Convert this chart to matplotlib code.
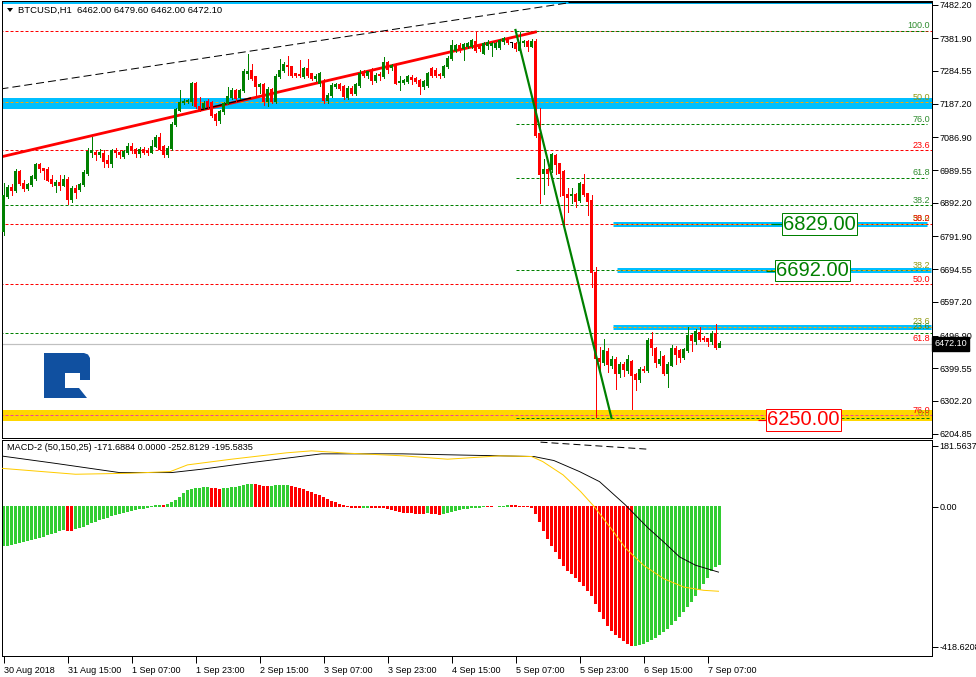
import numpy as np
import matplotlib
matplotlib.use('Agg')
import matplotlib.pyplot as plt
from matplotlib import font_manager
from matplotlib.patches import Polygon
import matplotlib.transforms as mtrans

# ---------------- data ----------------
opens = [6806, 6910, 6937, 6929, 6984, 6949, 6934, 6946, 6965, 7005,
         6995, 6990, 6962, 6945, 6952, 6945, 6963, 6903, 6935, 6931,
         6946, 6978, 7041, 7041, 7035, 7040, 7017, 7008, 7047, 7043,
         7030, 7043, 7061, 7050, 7038, 7052, 7048, 7043, 7061, 7087,
         7061, 7037, 7053, 7124, 7168, 7190, 7193, 7193, 7247, 7180,
         7176, 7193, 7190, 7155, 7138, 7163, 7188, 7207, 7227, 7206,
         7227, 7277, 7285, 7267, 7237, 7244, 7193, 7229, 7195, 7269,
         7287, 7302, 7297, 7276, 7274, 7269, 7292, 7277, 7262, 7247,
         7252, 7198, 7213, 7238, 7244, 7237, 7206, 7232, 7217, 7242,
         7282, 7270, 7282, 7257, 7275, 7269, 7309, 7294, 7297, 7250,
         7250, 7252, 7265, 7262, 7257, 7237, 7240, 7292, 7287, 7275,
         7272, 7298, 7323, 7346, 7361, 7351, 7357, 7358, 7373, 7358,
         7338, 7360, 7360, 7355, 7355, 7371, 7378, 7368, 7366, 7346,
         7369, 7373, 7358, 7373, 7099, 6978, 6990, 6990, 7032, 7008,
         6985, 6916, 6913, 6916, 6900, 6946, 6919, 6898, 6686, 6429,
         6417, 6451, 6409, 6427, 6385, 6412, 6392, 6419, 6380, 6366,
         6397, 6392, 6484, 6457, 6415, 6434, 6383, 6409, 6459, 6452,
         6432, 6452, 6496, 6478, 6506, 6488, 6488, 6478, 6504, 6462.0]
highs = [6952, 6946, 6949, 6993, 6990, 6960, 6950, 6975, 7012, 7012,
         6997, 7000, 6975, 6960, 6975, 6975, 6970, 6941, 6944, 6950,
         6990, 7054, 7089, 7047, 7052, 7050, 7035, 7052, 7056, 7050,
         7050, 7070, 7070, 7055, 7058, 7058, 7055, 7079, 7094, 7101,
         7065, 7060, 7133, 7175, 7227, 7200, 7202, 7252, 7252, 7206,
         7195, 7200, 7196, 7160, 7168, 7192, 7237, 7235, 7232, 7232,
         7289, 7336, 7306, 7270, 7249, 7250, 7236, 7234, 7275, 7321,
         7310, 7328, 7300, 7280, 7316, 7297, 7321, 7280, 7275, 7282,
         7262, 7220, 7250, 7250, 7250, 7242, 7240, 7240, 7250, 7287,
         7287, 7285, 7292, 7278, 7282, 7326, 7315, 7305, 7309, 7269,
         7262, 7272, 7272, 7266, 7262, 7258, 7282, 7297, 7292, 7280,
         7303, 7328, 7378, 7365, 7369, 7369, 7372, 7380, 7400, 7362,
         7371, 7378, 7372, 7370, 7380, 7387, 7383, 7368, 7370, 7400,
         7378, 7378, 7380, 7380, 7173, 7022, 6995, 7040, 7038, 7010,
         6990, 6937, 6937, 6920, 6953, 6978, 6920, 6916, 6702, 6463,
         6486, 6460, 6435, 6432, 6418, 6418, 6439, 6425, 6385, 6402,
         6405, 6491, 6508, 6462, 6452, 6440, 6418, 6468, 6465, 6458,
         6460, 6521, 6502, 6516, 6521, 6495, 6490, 6510, 6531, 6479.6]
lows = [6797, 6907, 6914, 6925, 6946, 6926, 6930, 6942, 6961, 6985,
        6963, 6956, 6941, 6923, 6931, 6941, 6888, 6896, 6907, 6926,
        6942, 6975, 7030, 7020, 7030, 7000, 6998, 7000, 7030, 7025,
        7025, 7038, 7040, 7029, 7028, 7036, 7035, 7040, 7058, 7048,
        7030, 7030, 7050, 7120, 7166, 7185, 7188, 7183, 7174, 7166,
        7170, 7170, 7148, 7124, 7130, 7158, 7185, 7200, 7195, 7200,
        7222, 7262, 7258, 7213, 7218, 7183, 7180, 7190, 7190, 7265,
        7283, 7272, 7268, 7268, 7266, 7265, 7267, 7258, 7255, 7240,
        7189, 7189, 7208, 7233, 7228, 7200, 7200, 7212, 7212, 7238,
        7268, 7265, 7247, 7252, 7257, 7265, 7279, 7288, 7245, 7227,
        7245, 7248, 7247, 7248, 7215, 7232, 7236, 7267, 7268, 7265,
        7268, 7293, 7318, 7340, 7340, 7318, 7352, 7354, 7341, 7345,
        7334, 7350, 7328, 7350, 7350, 7366, 7365, 7355, 7345, 7341,
        7360, 7344, 7355, 7087, 6893, 6919, 6946, 6985, 6978, 6911,
        6827, 6864, 6893, 6880, 6895, 6912, 6857, 6642, 6254, 6382,
        6410, 6389, 6400, 6338, 6375, 6378, 6385, 6277, 6336, 6360,
        6388, 6388, 6439, 6402, 6410, 6380, 6343, 6405, 6412, 6417,
        6428, 6448, 6452, 6472, 6481, 6480, 6467, 6473, 6457, 6462.0]
closes = [6913, 6937, 6929, 6985, 6949, 6935, 6946, 6969, 7005, 6994,
          6988, 6960, 6949, 6952, 6945, 6963, 6901, 6934, 6923, 6946,
          6982, 7044, 7047, 7035, 7041, 7015, 7008, 7047, 7043, 7035,
          7045, 7061, 7047, 7040, 7052, 7043, 7043, 7061, 7087, 7052,
          7035, 7054, 7124, 7170, 7190, 7195, 7198, 7247, 7178, 7170,
          7188, 7178, 7153, 7138, 7163, 7188, 7209, 7227, 7203, 7227,
          7282, 7282, 7262, 7237, 7244, 7193, 7229, 7195, 7269, 7287,
          7304, 7297, 7272, 7272, 7270, 7292, 7272, 7262, 7269, 7277,
          7198, 7213, 7242, 7244, 7232, 7208, 7232, 7217, 7245, 7277,
          7272, 7282, 7257, 7272, 7272, 7311, 7290, 7300, 7247, 7254,
          7255, 7267, 7260, 7252, 7237, 7254, 7277, 7272, 7272, 7272,
          7298, 7323, 7361, 7361, 7346, 7364, 7367, 7375, 7346, 7351,
          7366, 7370, 7366, 7365, 7375, 7381, 7370, 7368, 7351, 7370,
          7373, 7358, 7373, 7094, 6975, 6990, 6978, 7035, 7005, 6980,
          6913, 6908, 6916, 6896, 6949, 6916, 6896, 6686, 6429, 6419,
          6452, 6412, 6427, 6383, 6412, 6395, 6427, 6378, 6366, 6397,
          6392, 6483, 6462, 6417, 6425, 6385, 6412, 6459, 6442, 6432,
          6454, 6496, 6481, 6508, 6486, 6486, 6478, 6504, 6462, 6472.1]

macd_hist = [-117, -115, -113, -110, -108, -105, -102, -99, -95, -92,
             -88, -84, -80, -76, -72, -68, -70, -71, -66, -62,
             -58, -52, -47, -43, -39, -35, -31, -27, -24, -20,
             -17, -14, -11, -8, -6, -4, -3, 2, 3, 4,
             3, 6, 12, 20, 28, 38, 48, 52, 54, 55,
             56, 57, 55, 53, 52, 53, 55, 57, 58, 60,
             63, 66, 67, 65, 63, 61, 60, 61, 62, 62.5,
             63, 63.5, 60, 57, 54, 50, 46, 42, 37, 32,
             27, 22, 17, 12, 8, 4, 2, -1, -2, -3,
             -2, -1, -2, -2, -3, -3, -6, -9, -12, -14,
             -16, -17, -18, -19, -20, -20, -18, -19, -21, -22,
             -21, -18, -14, -11, -8, -6, -4, -3, -2, -1,
             1, 1, 1, 0, 1, 2, 3, 3, 3, 2,
             1, 1, -3, -20, -45, -70, -95, -115, -135, -155,
             -175, -190, -200, -212, -224, -236, -250, -266, -290, -312,
             -334, -354, -370, -382, -392, -401, -408, -416, -415, -413,
             -409, -404, -398, -391, -383, -374, -364, -353, -341, -328,
             -314, -299, -283, -266, -248, -230, -211, -191, -180, -171.69]

# MACD lines read at selected bars (bar index, value)
macd_black_idx = [-0.75, 12.7, 29, 42, 49.5, 62, 79.5, 99.7, 132.6, 137.6,
                  144, 149, 155.5, 161, 165, 169, 173, 178.75]
macd_black_val = [152, 130, 102, 102, 112, 132, 158, 158, 150, 138,
                  105, 75, 5, -62, -105, -150, -175, -195.58]
macd_gold_idx = [-0.75, 18, 31.6, 41.7, 46, 57, 70.7, 77, 86, 100,
                 111, 124, 132, 134.8, 139.9, 144.3, 147.7, 152.2, 155.5, 160,
                 165, 170, 175, 178.75]
macd_gold_val = [115, 97, 100, 105, 125, 142, 161, 167, 160, 152,
                 142, 152, 150, 135, 95, 45, 0, -70, -124, -175,
                 -215, -240, -250, -252.81]

price_ticks = [7482.20, 7381.90, 7284.55, 7187.20, 7086.90, 6989.55, 6892.20,
               6791.90, 6694.55, 6597.20, 6496.90, 6399.55, 6302.20, 6204.85]
macd_ticks = [181.5637, 0.0, -418.6208]
macd_tick_labels = ['181.5637', '0.00', '-418.6208']
time_tick_idx = [0, 16, 32, 48, 64, 80, 96, 112, 128, 144, 160, 176]
time_labels = ['30 Aug 2018', '31 Aug 15:00', '1 Sep 07:00', '1 Sep 23:00',
               '2 Sep 15:00', '3 Sep 07:00', '3 Sep 23:00', '4 Sep 15:00',
               '5 Sep 07:00', '5 Sep 23:00', '6 Sep 15:00', '7 Sep 07:00']

title_text = 'BTCUSD,H1  6462.00 6479.60 6462.00 6472.10'
macd_text = 'MACD-2 (50,150,25) -171.6884 0.0000 -252.8129 -195.5835'
last_price = 6472.10
target_levels = [6829.00, 6692.00, 6250.00]
target_labels = ['6829.00', '6692.00', '6250.00']

# ---------------- figure ----------------
W, H = 976, 677
fig = plt.figure(figsize=(W / 100, H / 100), dpi=100)
fig.patch.set_facecolor('white')

def fx(x):
    return x / W

def fy(y):
    return 1 - y / H

names = {f.name for f in font_manager.fontManager.ttflist}
small_font = 'Liberation Sans' if 'Liberation Sans' in names else 'DejaVu Sans'
if 'Liberation Sans Narrow' in names:
    big_font, big_size = 'Liberation Sans Narrow', 17.5
else:
    big_font, big_size = small_font, 14.5
plt.rcParams['font.family'] = [small_font, 'DejaVu Sans']

SMALL = 6.5
PX = 0.72  # 1 px in points

ax = fig.add_axes([fx(2), fy(437.5), 930 / W, 437 / H])
mx = fig.add_axes([fx(2), fy(656), 930 / W, 216 / H])
XL = (-0.375, 232.125)   # 4 px per bar, bar centres on pixel centres
ax.set_xlim(*XL)
ax.set_ylim(6193.5, 7494.4)
mx.set_xlim(*XL)
mx.set_ylim(-446.4, 199.4)

for a in (ax, mx):
    for s in a.spines.values():
        s.set_linewidth(PX)
        s.set_color('black')

GREEN = '#008000'
RED = '#FF0000'
CYAN = '#00BFFF'
ORANGE = '#FFA500'
GOLD = '#FFD700'
LAB_GREEN = '#2e8b2e'
LAB_OLIVE = '#8f9a10'

n = len(closes)
idx = np.arange(n)
o = np.array(opens, float)
c = np.array(closes, float)
h = np.array(highs, float)
l = np.array(lows, float)
cols = [GREEN if cc > oo else (RED if cc < oo else 'black') for oo, cc in zip(o, c)]

# ---------- bands (horizontal zones) ----------
FULL = (-1, 240)
def band(price, thick_px, x0, x1, color, z=1):
    ax.hlines(price, x0, x1, colors=color, linewidth=thick_px * PX, zorder=z)

band(7488.5, 4, *FULL, CYAN)
band(7188.0, 11, *FULL, CYAN)
band(6259.0, 11, *FULL, GOLD)
band(6829.0, 5, 152.25, 230.75, CYAN)
band(6692.0, 5, 153.25, 231.75, CYAN)
band(6523.0, 5, 152.25, 231.75, CYAN)
ax.hlines(7490.5, 141, 240, colors='black', linewidth=1.2 * PX, zorder=2)

def dashed(price, x0, x1, color):
    ax.hlines(price, x0, x1, colors=color, linewidth=PX, linestyles=(0, (3, 2)), zorder=2)

# red fib (full width)
for p in [7404, 7049, 6829, 6650]:
    dashed(p, *FULL, RED)
dashed(6260.4, *FULL, '#F040A0')
# green fib
for p in [7404, 7127, 6966]:
    dashed(p, 128, 230.75, GREEN)
dashed(6886, *FULL, GREEN)
dashed(6505, *FULL, GREEN)
dashed(6692, 128, 231.75, GREEN)
dashed(6251.5, 128, 231.75, GREEN)
# orange dashes inside cyan bands
dashed(7192, *FULL, ORANGE)
dashed(6829, 152.25, 230.75, ORANGE)
dashed(6692, 153.25, 231.75, ORANGE)
dashed(6523, 152.25, 231.75, ORANGE)

# current price line
ax.axhline(last_price, color='#C0C0C0', linewidth=1.2 * PX, zorder=2)

# fib labels
fib_labels = [('100.0', LAB_GREEN, 7418.5), ('50.0', LAB_OLIVE, 7207), ('76.0', LAB_GREEN, 7141.6),
              ('23.6', RED, 7064), ('61.8', LAB_GREEN, 6981), ('38.2', LAB_GREEN, 6900.5),
              ('50.0', LAB_OLIVE, 6844), ('38.2', RED, 6844), ('38.2', LAB_OLIVE, 6707),
              ('50.0', RED, 6665), ('23.6', LAB_OLIVE, 6540), ('23.6', LAB_GREEN, 6525),
              ('61.8', RED, 6487), ('76.0', RED, 6275), ('0.0', LAB_OLIVE, 6266)]
for t, col, p in fib_labels:
    ax.text(231.6, p, t, color=col, fontsize=SMALL, ha='right', va='center', zorder=5)

# ---------- trend lines ----------
ax.plot([-0.75, 141], [7231, 7487], color='black', linewidth=PX,
        linestyle=(0, (8, 4)), zorder=2, solid_capstyle='butt')
ax.plot([-0.75, 133], [7028.5, 7400.6], color=RED, linewidth=2.8 * PX, zorder=2.5)
ax.plot([49.25, 61.75], [7169, 7204], color='black', linewidth=1.3 * PX, zorder=2.6)

# ---------- candles ----------
ax.vlines(idx, l, h, colors=cols, linewidth=1.0 * PX, zorder=3, antialiased=False)
bottoms = np.minimum(o, c)
heights = np.maximum(np.abs(c - o), 2.5)
ax.bar(idx, heights, bottom=bottoms, width=0.75, color=cols, linewidth=0, zorder=3.1,
       antialiased=False, snap=False)

ax.plot([128, 152], [7406.6, 6251.5], color=GREEN, linewidth=2.2 * PX, zorder=4)

# ---------- target labels ----------
tgt_pos = [(203.9, 6829.0, GREEN, (191.75, 194.6)),
           (202.25, 6690.6, GREEN, (190.5, 193.5)),
           (200.0, 6245.6, RED, (188.5, 191.5))]
for (xi, yp, col, seg), lab in zip(tgt_pos, target_labels):
    ax.hlines(yp, seg[0], seg[1], colors=col, linewidth=1.2 * PX, zorder=4)
    ax.text(xi, yp, lab, color=col, fontsize=big_size, family=[big_font, 'DejaVu Sans'],
            ha='center', va='center', zorder=6,
            bbox=dict(boxstyle='square,pad=0.06', fc='white', ec=col, lw=PX))

# ---------- axes ticks ----------
ax.set_xticks([])
ax.yaxis.tick_right()
ax.set_yticks(price_ticks)
ax.set_yticklabels(['%.2f' % v for v in price_ticks])
ax.tick_params(axis='y', length=4, width=PX, pad=1.5, labelsize=SMALL, direction='out')

ax.text(1.0 + 2.5 / 930, last_price, '%.2f' % last_price,
        transform=mtrans.blended_transform_factory(ax.transAxes, ax.transData),
        color='white', fontsize=SMALL, ha='left', va='center', zorder=10, clip_on=False,
        bbox=dict(boxstyle='square,pad=0.25', fc='black', ec='black'))

# ---------- MACD ----------
hist = np.array(macd_hist, float)
hcols = ['#32CD32' if (i == 0 or hist[i] > hist[i - 1]) else RED for i in range(n)]
mx.bar(idx, hist, width=0.75, color=hcols, linewidth=0, zorder=2,
       antialiased=False, snap=False)
mx.plot(macd_black_idx, macd_black_val, color='black', linewidth=0.9 * PX, zorder=3)
mx.plot(macd_gold_idx, macd_gold_val, color='#FFCC00', linewidth=1.0 * PX, zorder=3)
mx.plot([134.25, 161], [193, 172], color='black', linewidth=PX, linestyle=(0, (7, 4)), zorder=3)

mx.yaxis.tick_right()
mx.set_yticks(macd_ticks)
mx.set_yticklabels(macd_tick_labels)
mx.tick_params(axis='y', length=4, width=PX, pad=1.5, labelsize=SMALL, direction='out')
mx.set_xticks(time_tick_idx)
mx.set_xticklabels(time_labels)
mx.tick_params(axis='x', length=5, width=PX, pad=2, labelsize=SMALL, direction='out')
for lbl in mx.get_xticklabels():
    lbl.set_ha('left')

# ---------- texts ----------
fig.text(fx(18), fy(10.5), title_text, fontsize=6.8, ha='left', va='center', color='black')
fig.patches.append(Polygon([(fx(7), fy(8)), (fx(13), fy(8)), (fx(10), fy(12))],
                           closed=True, transform=fig.transFigure, fc='black', ec='none'))
fig.text(fx(7), fy(447), macd_text, fontsize=6.6, ha='left', va='center', color='black')

# ---------- logo ----------
LOGO = '#1050a0'
def pix_poly(pts, col):
    fig.patches.append(Polygon([(fx(x), fy(y)) for x, y in pts], closed=True,
                               transform=fig.transFigure, fc=col, ec='none', zorder=5))
pix_poly([(44, 353), (65, 353), (65, 398), (44, 398)], LOGO)
pix_poly([(65, 353), (84, 353), (88, 354.5), (90, 358), (90, 380), (80, 380), (80, 373), (65, 373)], LOGO)
pix_poly([(65, 388), (79, 388), (87, 398), (65, 398)], LOGO)

fig.savefig('out.png', dpi=100, facecolor='white')
